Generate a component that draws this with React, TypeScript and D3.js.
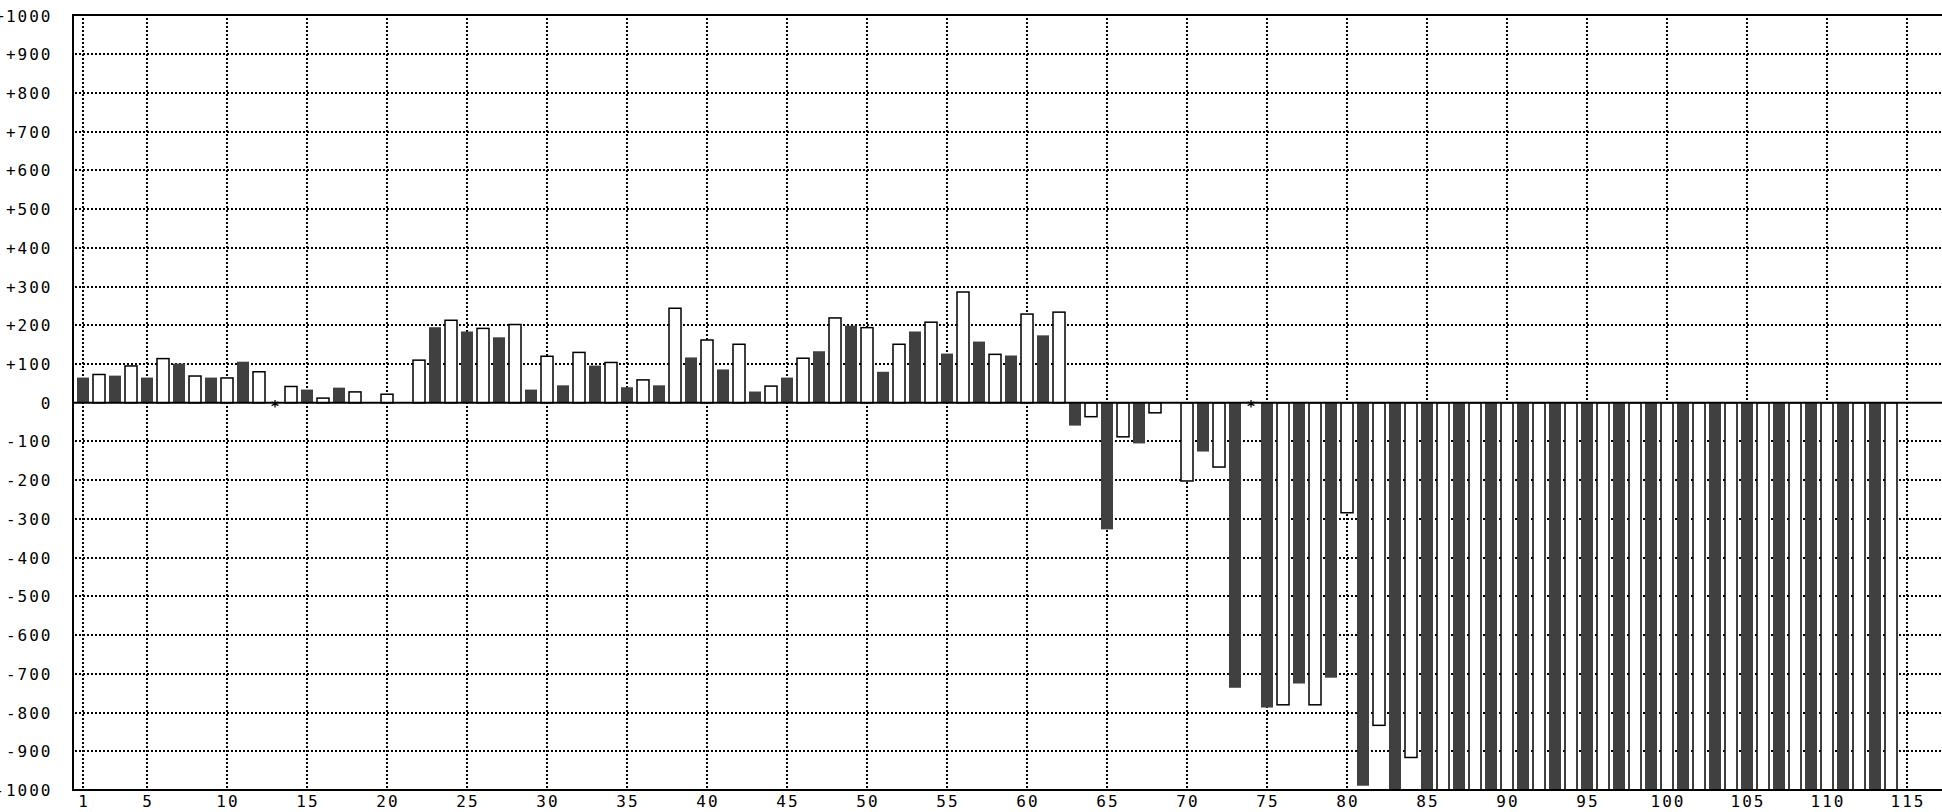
import React from "react";
import * as d3 from "d3";

// Bar values for categories 1..114 (null = no bar, 0 = zero marker "*")
const values: (number | null)[] = [
  65, 73, 70, 95, 65, 114, 101, 69, 65, 64,
  106, 80, 0, 42, 34, 12, 39, 28, null, 22,
  null, 110, 195, 213, 184, 192, 169, 202, 34, 120,
  45, 130, 96, 104, 40, 59, 45, 244, 117, 162,
  86, 151, 29, 43, 65, 115, 133, 219, 199, 194,
  80, 151, 184, 208, 127, 286, 158, 125, 122, 229,
  174, 234, -59, -36, -327, -88, -105, -26, null, -202,
  -126, -166, -736, 0, -787, -780, -725, -780, -710, -284,
  -989, -833, -1000, -916, -1000, -1000, -1000, -1000, -1000, -1000,
  -1000, -1000, -1000, -1000, -1000, -1000, -1000, -1000, -1000, -1000,
  -1000, -1000, -1000, -1000, -1000, -1000, -1000, -1000, -1000, -1000,
  -1000, -1000, -1000, -1000,
];
const categories: number[] = values.map((_, i) => i + 1);

const xTickLabels: number[] = [1, 5, 10, 15, 20, 25, 30, 35, 40, 45, 50, 55, 60, 65, 70, 75, 80, 85, 90, 95, 100, 105, 110, 115];
const yTickLabels: number[] = [1000, 900, 800, 700, 600, 500, 400, 300, 200, 100, 0, -100, -200, -300, -400, -500, -600, -700, -800, -900, -1000];

const W = 1942;
const H = 812;
const LEFT = 73;
const TOP = 15.5;
const BOTTOM = 790;

const FILL_DARK = "#404040";
const FONT = "'DejaVu Sans Mono', monospace";

export default function App() {
  const x = d3.scaleLinear().domain([1, 115]).range([83, 1907]);
  const y = d3.scaleLinear().domain([-1000, 1000]).range([BOTTOM, TOP]);
  const clampV = (v: number) => Math.max(-1000, Math.min(1000, v));
  const fmt = (v: number) => (v > 0 ? "+" + v : String(v));
  const barW = 12;

  return (
    <svg
      width={W}
      height={H}
      style={{ position: "absolute", left: 0, top: 0, background: "#fff" }}
    >
      <rect x={0} y={0} width={W} height={H} fill="#fff" />
      {/* horizontal grid */}
      {yTickLabels
        .filter((v) => v !== 0 && Math.abs(v) !== 1000)
        .map((v) => (
          <line
            key={"hg" + v}
            x1={LEFT + 2}
            x2={W}
            y1={Math.round(y(v))}
            y2={Math.round(y(v))}
            stroke="#000"
            strokeWidth={2}
            strokeDasharray="2 2"
            shapeRendering="crispEdges"
          />
        ))}
      {/* vertical grid */}
      {xTickLabels.map((t) => (
        <line
          key={"vg" + t}
          x1={x(t)}
          x2={x(t)}
          y1={TOP + 2}
          y2={BOTTOM}
          stroke="#000"
          strokeWidth={2}
          strokeDasharray="2 2"
          shapeRendering="crispEdges"
        />
      ))}
      {/* bars */}
      {values.map((v, i) => {
        const c = categories[i];
        if (v === null) return null;
        if (v === 0) {
          return (
            <text
              key={"b" + c}
              x={x(c)}
              y={y(0) + 9}
              textAnchor="middle"
              fontFamily={FONT}
              fontSize={15}
              fontWeight="bold"
              fill="#000"
            >
              *
            </text>
          );
        }
        const cv = clampV(v);
        const y0 = y(0);
        const y1 = y(cv);
        const top = Math.min(y0, y1);
        const h = Math.abs(y1 - y0);
        const filled = c % 2 === 1;
        return (
          <rect
            key={"b" + c}
            x={x(c) - barW / 2}
            y={top}
            width={barW}
            height={h}
            fill={filled ? FILL_DARK : "#fff"}
            stroke={filled ? "none" : "#000"}
            strokeWidth={filled ? 0 : 1.5}
          />
        );
      })}
      {/* frame */}
      <line x1={LEFT} x2={W} y1={15} y2={15} stroke="#000" strokeWidth={2} />
      <line x1={LEFT} x2={W} y1={BOTTOM} y2={BOTTOM} stroke="#000" strokeWidth={2} />
      <line x1={LEFT} x2={LEFT} y1={14} y2={BOTTOM + 1} stroke="#000" strokeWidth={2} />
      <line x1={LEFT} x2={W} y1={y(0)} y2={y(0)} stroke="#000" strokeWidth={2} />
      {/* y labels */}
      {yTickLabels.map((v) => (
        <text
          key={"yl" + v}
          x={52.5}
          y={y(v) + 6}
          textAnchor="end"
          fontFamily={FONT}
          fontSize={16}
          letterSpacing={2}
          fill="#000"
        >
          {fmt(v)}
        </text>
      ))}
      {/* x labels */}
      {xTickLabels.map((t) => (
        <text
          key={"xl" + t}
          x={x(t) + 1}
          y={807}
          textAnchor="middle"
          fontFamily={FONT}
          fontSize={16}
          letterSpacing={2}
          fill="#000"
        >
          {t}
        </text>
      ))}
    </svg>
  );
}
